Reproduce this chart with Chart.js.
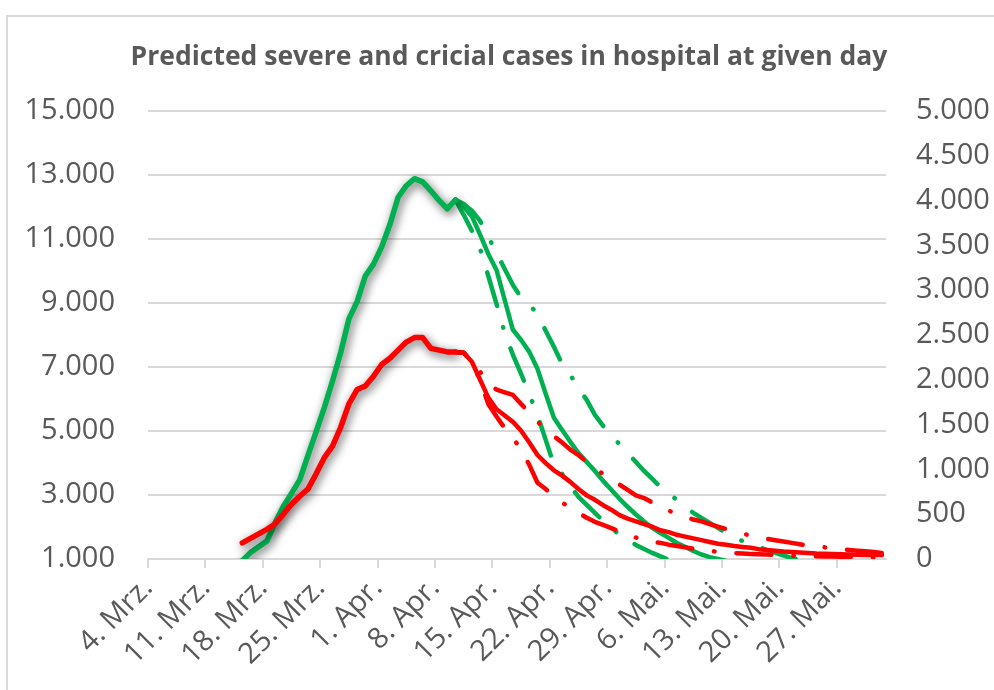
<!DOCTYPE html>
<html>
<head>
<meta charset="utf-8">
<script src="https://cdn.jsdelivr.net/npm/chart.js@4"></script>
<style>
  html, body { margin: 0; padding: 0; background: #fff; overflow: hidden; }
  #wrap { position: relative; width: 994px; height: 690px; }
  #frame { position: absolute; left: 6px; top: 15px; width: 1000px; height: 700px; border: 2px solid #d9d9d9; }
  canvas { position: absolute; left: 0; top: 0; }
</style>
</head>
<body>
<div id="wrap">
  <div id="frame"></div>
  <canvas id="chart" width="994" height="690"></canvas>
</div>
<script>
// categories: one per day, 4. Mrz. .. 1. Jun.
const months = [['Mrz.', 4, 31], ['Apr.', 1, 30], ['Mai.', 1, 31], ['Jun.', 1, 1]];
const days = [];
months.forEach(([m, from, to]) => { for (let d = from; d <= to; d++) days.push(d + '. ' + m); });
const tickEvery = 7;

// severe cases (left axis), actual from 15. Mrz., forecasts from 10. Apr.
const actualStart = 11;
const forecastStart = 37;
const greenActual = [950, 1200, 1380, 1560, 2130, 2640, 3050, 3470, 4230, 4970, 5730, 6560, 7450, 8500,
  9040, 9840, 10210, 10750, 11450, 12300, 12660, 12880, 12780, 12500, 12200, 11940, 12220];
const greenMid = [12220, 12000, 11700, 11130, 10530, 10030, 9090, 8160, 7840, 7470, 6940, 6160, 5410, 5030,
  4660, 4310, 4030, 3750, 3440, 3160, 2880, 2630, 2390, 2170, 1970, 1810, 1660, 1500, 1380, 1250, 1140,
  1060, 1000, 940];
const greenHigh = [12220, 12090, 11880, 11560, 11060, 10560, 10060, 9560, 9160, 8940, 8660, 8130, 7630, 7090,
  6750, 6340, 5970, 5500, 5160, 4840, 4590, 4310, 4030, 3750, 3500, 3250, 3060, 2840, 2630, 2440, 2280,
  2130, 1970, 1810, 1690, 1560, 1470, 1380, 1280, 1190, 1110, 1030, 970];
const greenLow = [12220, 11750, 11250, 10690, 9840, 8970, 8060, 7380, 6780, 6150, 5500, 4720, 3940, 3660,
  3280, 2940, 2690, 2440, 2190, 1970, 1750, 1590, 1440, 1310, 1190, 1080, 970];

// critical cases (right axis)
const redActual = [180, 230, 280, 330, 390, 500, 610, 700, 780, 950, 1130, 1260, 1470, 1730, 1890, 1930,
  2040, 2170, 2240, 2330, 2420, 2470, 2470, 2350, 2330, 2310, 2310];
const redMid = [2310, 2300, 2200, 2000, 1800, 1670, 1600, 1530, 1430, 1300, 1160, 1070, 990, 930, 860, 780,
  710, 660, 600, 550, 490, 450, 420, 390, 360, 320, 300, 270, 250, 230, 210, 190, 170, 160, 145, 135, 125,
  110, 100, 93, 84, 78, 73, 67, 61, 58, 56, 52, 50, 48, 46, 45, 45];
const redHigh = [2310, 2300, 2200, 2090, 1960, 1890, 1860, 1830, 1730, 1630, 1530, 1450, 1370, 1300, 1220,
  1160, 1080, 1010, 950, 890, 830, 770, 710, 680, 630, 590, 540, 500, 470, 440, 420, 390, 360, 335, 310,
  285, 260, 245, 225, 210, 195, 180, 165, 150, 140, 130, 120, 110, 100, 92, 86, 78, 67];
const redLow = [2310, 2300, 2200, 1990, 1730, 1590, 1460, 1350, 1220, 1050, 850, 780, 700, 630, 575, 515,
  460, 415, 380, 345, 305, 275, 240, 210, 190, 180, 160, 145, 130, 115, 105, 92, 80, 73, 67, 61, 56, 52,
  49, 45, 41, 38, 33, 32, 30, 28, 27, 25, 24, 22, 21, 20, 19];

const GREEN = '#00B050';
const RED = '#FF0000';
const GREY = '#595959';
const GRID = '#d9d9d9';
const dashDot = [35, 22, 0.5, 22];

function atDay(start, values) {
  return days.map((_, i) => (i >= start && i < start + values.length) ? values[i - start] : null);
}
function fmt(v) {
  return String(v).replace(/\B(?=(\d{3})+(?!\d))/g, '.');
}
function line(data, color, axis, extra) {
  return Object.assign({
    data: data, borderColor: color, backgroundColor: color, yAxisID: axis,
    borderWidth: 4.5, pointRadius: 0, tension: 0, fill: false,
    borderCapStyle: 'round', borderJoinStyle: 'round'
  }, extra || {});
}

// soft shadow under the actual lines
const shadowPlugin = {
  id: 'lineShadow',
  beforeDatasetDraw(chart, args) {
    if (!chart.data.datasets[args.index].shadow) return;
    const ctx = chart.ctx;
    ctx.save();
    ctx.shadowColor = 'rgba(0,0,0,0.65)';
    ctx.shadowBlur = 10;
    ctx.shadowOffsetX = 2;
    ctx.shadowOffsetY = 3;
  },
  afterDatasetDraw(chart, args) {
    if (chart.data.datasets[args.index].shadow) chart.ctx.restore();
  }
};

Chart.defaults.font.family = "'Open Sans', sans-serif";
Chart.defaults.color = GREY;

new Chart(document.getElementById('chart'), {
  type: 'line',
  data: {
    labels: days,
    datasets: [
      line(atDay(actualStart, redActual), RED, 'y1', { borderWidth: 5.5, shadow: true }),
      line(atDay(forecastStart, redMid), RED, 'y1'),
      line(atDay(forecastStart, redHigh), RED, 'y1', { borderDash: dashDot, borderDashOffset: 23 }),
      line(atDay(forecastStart, redLow), RED, 'y1', { borderDash: dashDot, borderDashOffset: 23 }),
      line(atDay(actualStart, greenActual), GREEN, 'y', { borderWidth: 5.5, shadow: true }),
      line(atDay(forecastStart, greenMid), GREEN, 'y'),
      line(atDay(forecastStart, greenHigh), GREEN, 'y', { borderDash: dashDot }),
      line(atDay(forecastStart, greenLow), GREEN, 'y', { borderDash: dashDot })
    ]
  },
  options: {
    responsive: false,
    animation: false,
    events: [],
    layout: { padding: { left: 24, top: 0, right: 0, bottom: 0 } },
    plugins: {
      legend: { display: false },
      tooltip: { enabled: false },
      title: {
        display: true,
        text: 'Predicted severe and cricial cases in hospital at given day',
        color: GREY,
        font: { size: 26.5, weight: 'bold' },
        padding: { top: 42, bottom: 37 }
      }
    },
    scales: {
      x: {
        offset: true,
        grid: {
          offset: true,
          drawOnChartArea: false,
          tickLength: 9,
          lineWidth: 2,
          color: ctx => (ctx.index % tickEvery === 0 && ctx.index < days.length) ? GRID : 'rgba(0,0,0,0)'
        },
        border: { color: GRID, width: 2 },
        ticks: {
          autoSkip: false,
          maxRotation: 45,
          minRotation: 45,
          labelOffset: -4,
          padding: 3,
          color: GREY,
          font: { size: 29 },
          callback: (v, i) => (i % tickEvery === 0 ? days[i] : '')
        },
        afterFit: s => { s.height = 131; }
      },
      y: {
        position: 'left',
        min: 1000,
        max: 15000,
        grid: { color: GRID, lineWidth: 2, drawTicks: false },
        border: { display: false },
        ticks: { stepSize: 2000, padding: 33, color: GREY, font: { size: 29 }, callback: v => fmt(v) },
        afterFit: s => { s.width = 124; }
      },
      y1: {
        position: 'right',
        min: 0,
        max: 5000,
        grid: { drawOnChartArea: false, drawTicks: false },
        border: { display: false },
        ticks: { stepSize: 500, padding: 30, color: GREY, font: { size: 29 }, callback: v => fmt(v) },
        afterFit: s => { s.width = 108; }
      }
    }
  },
  plugins: [shadowPlugin]
});
</script>
</body>
</html>
